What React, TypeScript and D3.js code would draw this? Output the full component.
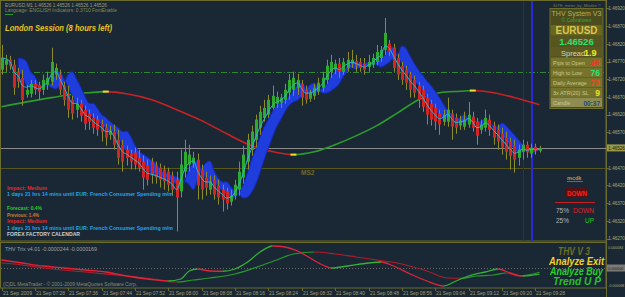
import React from "react";
import * as d3 from "d3";

// ---------- DATA ----------
// EURUSD M1 candles, 07:20 .. 09:29, [open, high, low, close]
const candles: [number, number, number, number][] = [
  [1.46747, 1.46817, 1.46733, 1.4678], [1.46761, 1.46789, 1.46741, 1.46775], [1.46775, 1.46786, 1.46747, 1.46758],
  [1.46761, 1.46775, 1.46676, 1.46696], [1.46741, 1.46752, 1.46696, 1.46713], [1.46724, 1.46747, 1.46645, 1.46662],
  [1.46676, 1.46704, 1.46668, 1.4669], [1.46679, 1.46718, 1.46668, 1.46707], [1.46707, 1.46718, 1.46676, 1.4669],
  [1.46704, 1.46713, 1.46662, 1.46685], [1.4669, 1.46733, 1.46676, 1.46718], [1.46704, 1.46741, 1.4669, 1.46724],
  [1.46713, 1.46809, 1.46702, 1.46769], [1.46733, 1.46764, 1.46718, 1.46752], [1.46733, 1.46747, 1.46676, 1.4669],
  [1.46702, 1.46713, 1.46645, 1.46662], [1.46679, 1.46702, 1.46611, 1.46634], [1.46662, 1.46673, 1.46606, 1.46623],
  [1.46634, 1.46668, 1.46611, 1.46651], [1.46651, 1.46662, 1.466, 1.46617], [1.46634, 1.46645, 1.46577, 1.46594],
  [1.46623, 1.46634, 1.46577, 1.466], [1.46611, 1.46623, 1.46566, 1.46583], [1.46606, 1.46617, 1.4656, 1.46577],
  [1.46594, 1.46606, 1.46544, 1.46572], [1.46583, 1.46594, 1.46532, 1.46555], [1.46563, 1.46589, 1.46549, 1.46575],
  [1.46572, 1.46592, 1.46521, 1.46535], [1.46549, 1.46577, 1.46479, 1.46498], [1.46535, 1.46549, 1.46459, 1.46487],
  [1.46521, 1.46532, 1.46476, 1.46498], [1.4651, 1.46521, 1.46465, 1.46487], [1.46513, 1.46527, 1.46465, 1.46479],
  [1.46498, 1.46521, 1.46459, 1.4647], [1.46487, 1.46504, 1.46408, 1.46442], [1.46476, 1.46493, 1.4642, 1.46436],
  [1.46487, 1.46498, 1.46425, 1.46448], [1.46476, 1.46487, 1.46425, 1.46442], [1.4647, 1.46482, 1.46414, 1.46436],
  [1.46465, 1.46476, 1.46408, 1.46431], [1.46459, 1.4647, 1.46403, 1.46422], [1.46448, 1.46459, 1.46391, 1.46408],
  [1.46436, 1.46459, 1.4629, 1.46386], [1.46403, 1.46521, 1.46386, 1.46479], [1.46459, 1.46549, 1.46442, 1.46515],
  [1.46479, 1.46535, 1.46459, 1.46507], [1.46482, 1.46515, 1.4647, 1.46498], [1.46493, 1.4651, 1.4638, 1.4642],
  [1.46465, 1.46479, 1.4638, 1.46408], [1.46442, 1.46459, 1.46391, 1.46414], [1.46408, 1.46448, 1.46394, 1.46431],
  [1.46436, 1.46448, 1.4638, 1.46394], [1.4642, 1.46436, 1.46366, 1.46386], [1.46408, 1.46422, 1.46346, 1.4638],
  [1.46403, 1.46414, 1.46352, 1.46369], [1.46374, 1.46408, 1.46363, 1.46391], [1.46391, 1.46436, 1.4638, 1.46422],
  [1.46408, 1.46487, 1.46391, 1.46459], [1.46442, 1.46532, 1.46425, 1.46507], [1.46487, 1.46566, 1.46465, 1.46549],
  [1.46521, 1.46589, 1.46504, 1.46572], [1.46549, 1.4662, 1.46527, 1.46606], [1.46583, 1.46645, 1.46563, 1.46628],
  [1.46611, 1.46662, 1.466, 1.46639], [1.4662, 1.46676, 1.46611, 1.46662], [1.46639, 1.46702, 1.46634, 1.46673],
  [1.46651, 1.46685, 1.46639, 1.4667], [1.46654, 1.46679, 1.46639, 1.46668], [1.46662, 1.46707, 1.46651, 1.4669],
  [1.46682, 1.46735, 1.46662, 1.46718], [1.4669, 1.46741, 1.46673, 1.46724], [1.46696, 1.46735, 1.46676, 1.46718],
  [1.46707, 1.46718, 1.46645, 1.46668], [1.4669, 1.46702, 1.46651, 1.46662], [1.46665, 1.4669, 1.46656, 1.46682],
  [1.46673, 1.46707, 1.46662, 1.46696], [1.46685, 1.46724, 1.46676, 1.4671], [1.46696, 1.46741, 1.46685, 1.46724],
  [1.46718, 1.46775, 1.46707, 1.46758], [1.46741, 1.46789, 1.46724, 1.46769], [1.46747, 1.46775, 1.46735, 1.46764],
  [1.46764, 1.4678, 1.46724, 1.46741], [1.46741, 1.4678, 1.46733, 1.46769], [1.46752, 1.46797, 1.46741, 1.46775],
  [1.46764, 1.46803, 1.46752, 1.46775], [1.46772, 1.46789, 1.46741, 1.46758], [1.46769, 1.4678, 1.46741, 1.46752],
  [1.46764, 1.4678, 1.46733, 1.46747], [1.46755, 1.46789, 1.46741, 1.46769], [1.46761, 1.46792, 1.46752, 1.4678],
  [1.46769, 1.46817, 1.46761, 1.46797], [1.4678, 1.46814, 1.46769, 1.46803], [1.46803, 1.46893, 1.46789, 1.46851],
  [1.4682, 1.46831, 1.46786, 1.46797], [1.46809, 1.4682, 1.46741, 1.46752], [1.4678, 1.46792, 1.46718, 1.46733],
  [1.46758, 1.46769, 1.46704, 1.46718], [1.46747, 1.46758, 1.4669, 1.4671], [1.46733, 1.46741, 1.46668, 1.4669],
  [1.46718, 1.4673, 1.46668, 1.46682], [1.46702, 1.46713, 1.46639, 1.46662], [1.4669, 1.46702, 1.46628, 1.46642],
  [1.46668, 1.46679, 1.46592, 1.4662], [1.46651, 1.46662, 1.46589, 1.46606], [1.46639, 1.46651, 1.46577, 1.466],
  [1.46623, 1.46634, 1.46563, 1.46592], [1.466, 1.46634, 1.46589, 1.4662], [1.466, 1.46668, 1.46586, 1.46634],
  [1.46623, 1.46634, 1.46549, 1.46586], [1.46611, 1.46623, 1.46566, 1.46583], [1.46589, 1.46617, 1.46577, 1.46603],
  [1.46586, 1.46628, 1.46577, 1.46606], [1.46592, 1.46656, 1.46583, 1.4662], [1.46614, 1.46628, 1.46572, 1.46583],
  [1.466, 1.46611, 1.46535, 1.4656], [1.46577, 1.46606, 1.46566, 1.46592], [1.46583, 1.46634, 1.46572, 1.46611],
  [1.46606, 1.4662, 1.4656, 1.46577], [1.46589, 1.466, 1.46535, 1.46555], [1.46577, 1.46592, 1.46521, 1.46544],
  [1.46566, 1.46583, 1.46507, 1.46527], [1.46555, 1.46572, 1.46493, 1.46515], [1.46544, 1.46555, 1.46465, 1.46504],
  [1.46532, 1.46549, 1.46456, 1.46493], [1.46498, 1.46535, 1.46476, 1.46521], [1.46515, 1.46549, 1.46493, 1.46535],
  [1.46535, 1.46544, 1.46498, 1.46513], [1.4651, 1.46538, 1.46498, 1.46527], [1.46529, 1.46538, 1.46507, 1.46518],
  [1.46518, 1.46532, 1.46513, 1.46526],
];

const currentPrice = 1.46526;
const dayOpenLevel = 1.46741;
const ms2Level = 1.4647;
const sessionMarks = [125, 127];

// slow moving average
const slowIdx = [0, 6, 12, 18, 21, 25, 30, 36, 42, 48, 54, 60, 66, 70, 75, 80, 85, 90, 95, 100, 105, 110, 113, 118, 124, 129];
const slowVal = [1.46642, 1.46656, 1.46668, 1.46679, 1.46682, 1.46685, 1.46679, 1.46662, 1.46634, 1.46603, 1.46566, 1.46532, 1.46513, 1.46507, 1.46515, 1.46535, 1.4656, 1.46589, 1.46625, 1.46662, 1.46682, 1.46686, 1.46688, 1.46682, 1.46665, 1.46648];

// THV Trix lines
const trixFastIdx = [0, 5, 10, 15, 20, 25, 30, 35, 40, 43, 45, 47, 50, 53, 56, 59, 62, 65, 68, 71, 74, 77, 79, 83, 88, 91, 94, 98, 102, 106, 109, 112, 116, 119, 122, 125, 129];
const trixFastVal = [32e-6, 20e-6, 8e-6, 0, -8e-6, -16e-6, -32e-6, -44e-6, -52e-6, -44e-6, -12e-6, -4e-6, -12e-6, -13e-6, -4e-6, 24e-6, 64e-6, 88e-6, 84e-6, 68e-6, 40e-6, 12e-6, 0, 8e-6, 20e-6, 24e-6, 8e-6, -24e-6, -52e-6, -72e-6, -52e-6, -32e-6, -16e-6, -4e-6, -20e-6, -32e-6, -24.4e-6];
const trixSlowIdx = [0, 3, 10, 20, 30, 38, 42, 46, 50, 56, 62, 66, 70, 75, 80, 85, 90, 96, 102, 107, 110, 114, 118, 121, 124, 129];
const trixSlowVal = [20e-6, 16e-6, 0, -16e-6, -32e-6, -48e-6, -56e-6, -48e-6, -40e-6, -24e-6, 8e-6, 32e-6, 56e-6, 64e-6, 56e-6, 44e-6, 32e-6, 16e-6, -12e-6, -40e-6, -41e-6, -32e-6, -28e-6, -20e-6, -32e-6, -16.9e-6];
const trixLabels = ["0.000084", "0.000000", "-0.000068"];
const trixLabelVals = [84e-6, 0, -68e-6];

const timeLabels = ["21 Sep 2009", "21 Sep 07:28", "21 Sep 07:36", "21 Sep 07:44", "21 Sep 07:52", "21 Sep 08:00", "21 Sep 08:08", "21 Sep 08:16", "21 Sep 08:24", "21 Sep 08:32", "21 Sep 08:40", "21 Sep 08:48", "21 Sep 08:56", "21 Sep 09:04", "21 Sep 09:12", "21 Sep 09:20", "21 Sep 09:28"];
const priceTicks = d3.range(0, 14).map((k) => 1.4627 + k * 0.0005);

const infoLabels = ["Pips to Open", "High to Low", "Daily Average", "3x ATR(20) SL", "Candle"];
const infoValues = ["-49", "76", "73", "9", "00:37"];
const newsLines = [
  "Impact: Medium",
  "1 days 21 hrs 14 mins until EUR: French Consumer Spending m/m",
  "Forecast: 0.4%",
  "Previous: 1.4%",
  "Impact: Medium",
  "1 days 21 hrs 14 mins until EUR: French Consumer Spending m/m",
  "FOREX FACTORY CALENDAR",
];
const signalLines = ["THV V 3", "Analyze Exit", "Analyze Buy", "Trend U P"];

// ---------- STYLE ----------
const BG = "#1a2836";
const FRAME = "#6b6b2c";
const FONT = "Liberation Sans, Arial, sans-serif";
const newsStyle = [
  { y: 189.5, fill: "#e02828", w: 40 },
  { y: 196, fill: "#1fa6e6", w: 166 },
  { y: 210, fill: "#2cc82c", w: 35 },
  { y: 216.5, fill: "#d0802c", w: 32 },
  { y: 223, fill: "#e02828", w: 40 },
  { y: 229.5, fill: "#1fa6e6", w: 166 },
  { y: 236, fill: "#cfcfcf", w: 73 },
];
const signalStyle = [
  { x: 558, y: 255, fill: "#6e6e24", w: 32 },
  { x: 549, y: 264.5, fill: "#f2d21e", w: 55 },
  { x: 550, y: 274.5, fill: "#26d226", w: 53 },
  { x: 553, y: 284.5, fill: "#26c026", w: 48 },
];
const infoValColors = ["#e83a2a", "#2ee070", "#e0502a", "#f0e020", "#2a3c9c"];

function ema(arr: number[], n: number) {
  const a = 2 / (n + 1);
  const out: number[] = [];
  arr.forEach((v, i) => out.push(i === 0 ? v : a * v + (1 - a) * out[i - 1]));
  return out;
}

function runs(idx: number[], vals: number[]) {
  const out: { from: number; to: number; up: boolean }[] = [];
  for (let k = 0; k < idx.length - 1; k++) {
    const up = vals[k + 1] > vals[k];
    const last = out[out.length - 1];
    if (last && last.up === up) last.to = idx[k + 1];
    else out.push({ from: idx[k], to: idx[k + 1], up });
  }
  return out;
}

function turns(idx: number[], vals: number[]) {
  const out: number[] = [];
  for (let k = 1; k < idx.length - 1; k++) {
    const a = vals[k] - vals[k - 1];
    const b = vals[k + 1] - vals[k];
    if (a * b < 0) out.push(k);
  }
  return out;
}

export default function App() {
  const xs = d3.scaleLinear().domain([0, 129]).range([1.5, 539.5]);
  const ys = d3.scaleLinear().domain([1.46263, 1.46941]).range([241, 1]);
  const yi = d3.scaleLinear().domain([-0.00008, 0.0001]).range([288, 243]);

  const closes = candles.map((c) => c[3]);
  const fast = ema(closes, 4);
  const S0 = 1;
  const S1 = 4;
  const idxAll = d3.range(candles.length);

  const bandArea = d3
    .area<number>()
    .defined((i) => i >= S1)
    .x((i) => xs(i))
    .y0((i) => ys(fast[i - S0]))
    .y1((i) => ys(fast[i - S1]))
    .curve(d3.curveMonotoneX);
  const cyanLine = d3.line<number>().x((i) => xs(i)).y((i) => ys(fast[i])).curve(d3.curveMonotoneX);

  const slowPath = d3
    .line<number>()
    .x((k) => xs(slowIdx[k]))
    .y((k) => ys(slowVal[k]))
    .curve(d3.curveMonotoneX)(d3.range(slowIdx.length)) as string;
  const slowRuns = runs(slowIdx, slowVal);
  const slowTurns = turns(slowIdx, slowVal);

  const trixPath = (idx: number[], vals: number[]) =>
    d3
      .line<number>()
      .x((k) => xs(idx[k]))
      .y((k) => yi(vals[k]))
      .curve(d3.curveMonotoneX)(d3.range(idx.length)) as string;
  const fastTrixPath = trixPath(trixFastIdx, trixFastVal);
  const slowTrixPath = trixPath(trixSlowIdx, trixSlowVal);
  const fastRuns = runs(trixFastIdx, trixFastVal);
  const slowTRuns = runs(trixSlowIdx, trixSlowVal);

  const clipX = (r: { from: number; to: number }, k: number, last: number) => {
    const x0 = k === 0 ? 0 : xs(r.from);
    const x1 = k === last ? 606 : xs(r.to);
    return { x: x0, w: x1 - x0 };
  };
  const curY = ys(currentPrice);

  return (
    <svg width={625} height={297} style={{ position: "absolute", left: 0, top: 0, display: "block" }} fontFamily={FONT}>
      <defs>
        {slowRuns.map((r, k) => {
          const c = clipX(r, k, slowRuns.length - 1);
          return (
            <clipPath id={`sc${k}`} key={k}>
              <rect x={c.x} y={0} width={c.w} height={241} />
            </clipPath>
          );
        })}
        {fastRuns.map((r, k) => {
          const c = clipX(r, k, fastRuns.length - 1);
          return (
            <clipPath id={`fc${k}`} key={k}>
              <rect x={c.x} y={243} width={c.w} height={45} />
            </clipPath>
          );
        })}
        {slowTRuns.map((r, k) => {
          const c = clipX(r, k, slowTRuns.length - 1);
          return (
            <clipPath id={`tc${k}`} key={k}>
              <rect x={c.x} y={243} width={c.w} height={45} />
            </clipPath>
          );
        })}
      </defs>
      <rect x={0} y={0} width={625} height={297} fill={BG} />

      {/* frames */}
      <rect x={0.5} y={0.5} width={605.5} height={240.5} fill="none" stroke={FRAME} />
      <rect x={0.5} y={242.5} width={605.5} height={45.5} fill="none" stroke={FRAME} />

      {/* horizontal levels */}
      <line x1={1} x2={606} y1={Math.round(ys(ms2Level)) + 0.5} y2={Math.round(ys(ms2Level)) + 0.5} stroke="#56561e" />
      <text x={301} y={ys(ms2Level) + 7} fontSize={6.5} fontWeight="bold" fill="#6c6c26">MS2</text>
      <line x1={1} x2={606} y1={Math.round(ys(dayOpenLevel)) + 0.5} y2={Math.round(ys(dayOpenLevel)) + 0.5} stroke="#2e8a2e" strokeDasharray="6,2,1,2" />
      <line x1={1} x2={606} y1={Math.round(curY) + 0.5} y2={Math.round(curY) + 0.5} stroke="#8a8a8a" />

      {/* session marks */}
      <line x1={Math.round(xs(sessionMarks[0])) + 0.5} x2={Math.round(xs(sessionMarks[0])) + 0.5} y1={1} y2={241} stroke="#2424a8" />
      <line x1={Math.round(xs(sessionMarks[1])) + 1} x2={Math.round(xs(sessionMarks[1])) + 1} y1={1} y2={241} stroke="#2a2ad2" strokeWidth={2} />

      {/* slow MA */}
      {slowRuns.map((r, k) => (
        <path key={k} d={slowPath} fill="none" stroke={r.up ? "#2c9c2c" : "#c82222"} strokeWidth={1.6} clipPath={`url(#sc${k})`} />
      ))}
      {slowTurns.map((k) => (
        <line key={k} x1={xs(slowIdx[k]) - 3} x2={xs(slowIdx[k]) + 3} y1={ys(slowVal[k])} y2={ys(slowVal[k])} stroke="#e8e02c" strokeWidth={2} />
      ))}

      {/* blue band */}
      <path d={bandArea(idxAll) as string} fill="#1f3cdc" stroke="#1428b4" strokeWidth={1} />

      {/* candles */}
      {candles.map((c, i) => {
        const [o, h, l, cl] = c;
        const cx = Math.round(xs(i));
        const up = cl >= o;
        const top = ys(Math.max(o, cl));
        const bot = ys(Math.min(o, cl));
        return (
          <g key={i}>
            <line x1={cx + 0.5} x2={cx + 0.5} y1={ys(h)} y2={ys(l)} stroke="#8c8c2c" />
            <rect x={cx - 1} y={top} width={3} height={Math.max(1, bot - top)} fill={up ? "#2eaa2e" : "#d42424"} />
          </g>
        );
      })}

      {/* cyan MA */}
      <path d={cyanLine(idxAll) as string} fill="none" stroke="#2cb6dc" strokeWidth={1} />

      {/* header texts */}
      <text x={5} y={6.5} fontSize={5.5} fill="#9c9c7c" textLength={102} lengthAdjust="spacingAndGlyphs">EURUSD,M1  1.46526 1.46526 1.46526 1.46526</text>
      <text x={5} y={12} fontSize={5.5} fill="#8a8a50" textLength={112} lengthAdjust="spacingAndGlyphs">Language: ENGLISH  Indicators: 0.3710  FontEnable</text>
      <line x1={5} x2={13} y1={14.5} y2={14.5} stroke="#2c9c2c" />
      <text x={5} y={30.5} fontSize={8.5} fontWeight="bold" fontStyle="italic" fill="#e8c41c" textLength={107} lengthAdjust="spacingAndGlyphs">London Session (8 hours left)</text>

      {/* news block */}
      {newsLines.map((t, k) => (
        <text key={k} x={7} y={newsStyle[k].y} fontSize={6} fontWeight="bold" fill={newsStyle[k].fill} textLength={newsStyle[k].w} lengthAdjust="spacingAndGlyphs">{t}</text>
      ))}

      {/* price axis */}
      <line x1={606.5} x2={606.5} y1={0} y2={297} stroke={FRAME} />
      {priceTicks.map((p, k) => (
        <g key={k}>
          <line x1={606} x2={609} y1={Math.round(ys(p)) + 0.5} y2={Math.round(ys(p)) + 0.5} stroke={FRAME} />
          {Math.abs(ys(p) - curY) > 7 && (
            <text x={608.3} y={ys(p) + 1.8} fontSize={4.6} fill="#a8a878">{p.toFixed(5)}</text>
          )}
        </g>
      ))}
      <rect x={607} y={curY - 3.5} width={18} height={7} fill="#9a9a48" />
      <text x={608.3} y={curY + 1.8} fontSize={4.6} fill="#202010">{currentPrice.toFixed(5)}</text>

      {/* info panel */}
      <text x={553} y={6.5} fontSize={4.4} fill="#7c7c5a" textLength={48} lengthAdjust="spacingAndGlyphs">SLTE_meter_by_Mladen ©</text>
      <rect x={550} y={8.5} width={53} height={100} fill="#4c4c1e" stroke="#6c6c2c" />
      <text x={576.5} y={16} fontSize={7} textAnchor="middle" fill="#b2b25a">THV System V3</text>
      <text x={576.5} y={22} fontSize={5} textAnchor="middle" fill="#32b032">© Cobraforex</text>
      <rect x={551} y={25} width={51} height={10.5} fill="#68661f" />
      <text x={576.5} y={34} fontSize={10} fontWeight="bold" textAnchor="middle" fill="#d8c650" textLength={42} lengthAdjust="spacingAndGlyphs">EURUSD</text>
      <rect x={551} y={36} width={51} height={10} fill="#575520" />
      <text x={576.5} y={45} fontSize={9.5} fontWeight="bold" textAnchor="middle" fill="#30e070">{currentPrice.toFixed(5)}</text>
      <rect x={551} y={46.5} width={51} height={10} fill="#5c5a22" />
      <text x={561} y={55.5} fontSize={7.5} fill="#d8d8a8">Spread</text>
      <text x={584} y={55.5} fontSize={9} fontWeight="bold" fill="#f0f020">1.9</text>
      {infoLabels.map((t, k) => (
        <g key={k}>
          <rect x={551} y={57.5 + k * 10} width={51} height={9.5} fill={k === 4 ? "#8e8c52" : "#76742c"} />
          <text x={553} y={64.5 + k * 10} fontSize={5.5} fill="#c8c890">{t}</text>
          <text x={600} y={65.5 + k * 10} fontSize={k === 4 ? 6.5 : 8.5} fontWeight="bold" textAnchor="end" fill={infoValColors[k]}>{infoValues[k]}</text>
        </g>
      ))}

      {/* signal block */}
      <text x={567} y={180} fontSize={5.5} fontWeight="bold" fill="#d09030">mcdk</text>
      <line x1={567} x2={583} y1={181.5} y2={181.5} stroke="#d09030" strokeWidth={0.6} />
      <rect x={566} y={188} width={22} height={9} fill="#5a1010" />
      <text x={577} y={195.5} fontSize={8} fontWeight="bold" textAnchor="middle" fill="#ff2020" textLength={20} lengthAdjust="spacingAndGlyphs">DOWN</text>
      <line x1={555} x2={595} y1={202.5} y2={202.5} stroke="#c82020" />
      <text x={556} y={212.5} fontSize={6.5} fill="#b4b4b4">75%</text>
      <text x={573} y={212.5} fontSize={6.5} fill="#e02020" textLength={21} lengthAdjust="spacingAndGlyphs">DOWN</text>
      <text x={556} y={222.5} fontSize={6.5} fill="#b4b4b4">25%</text>
      <text x={585} y={222.5} fontSize={6.5} fill="#22c822">UP</text>

      {/* indicator panel */}
      <line x1={1} x2={606} y1={yi(0) + 0.5} y2={yi(0) + 0.5} stroke="#6a6a6a" strokeDasharray="1,2" />
      {slowTRuns.map((r, k) => (
        <path key={k} d={slowTrixPath} fill="none" stroke={r.up ? "#2a9a2a" : "#b41c26"} strokeWidth={1.2} clipPath={`url(#tc${k})`} />
      ))}
      {fastRuns.map((r, k) => (
        <path key={k} d={fastTrixPath} fill="none" stroke={r.up ? "#34b034" : "#e0243a"} strokeWidth={1.3} clipPath={`url(#fc${k})`} />
      ))}
      <text x={5} y={251} fontSize={5.5} fill="#a0a0a0" textLength={92} lengthAdjust="spacingAndGlyphs">THV Trix v4.01 -0.0000244 -0.0000169</text>
      <text x={3} y={285.5} fontSize={5.5} fill="#8c8c6c" textLength={134} lengthAdjust="spacingAndGlyphs">(C)DL MetaTrader - © 2001-2009 MetaQuotes Software Corp.</text>
      {trixLabels.map((t, k) => (
        <g key={k}>
          {k === 1 && <rect x={607} y={yi(trixLabelVals[k]) - 3.5} width={18} height={7} fill="#7a7a7a" />}
          <text x={608.2} y={yi(trixLabelVals[k]) + 1.5} fontSize={3.6} fill={k === 1 ? "#202020" : "#a8a878"}>{t}</text>
        </g>
      ))}
      {signalLines.map((t, k) => (
        <text key={k} x={signalStyle[k].x} y={signalStyle[k].y} fontSize={10} fontWeight="bold" fontStyle="italic" fill={signalStyle[k].fill} textLength={signalStyle[k].w} lengthAdjust="spacingAndGlyphs">{t}</text>
      ))}

      {/* time axis */}
      {timeLabels.map((t, k) => {
        const x = Math.round(xs(k * 8));
        return (
          <g key={k}>
            <line x1={x + 0.5} x2={x + 0.5} y1={288} y2={291} stroke={FRAME} />
            <text x={x + 1} y={294.5} fontSize={5} fill="#a49e6c" textLength={29} lengthAdjust="spacingAndGlyphs">{t}</text>
          </g>
        );
      })}
    </svg>
  );
}
